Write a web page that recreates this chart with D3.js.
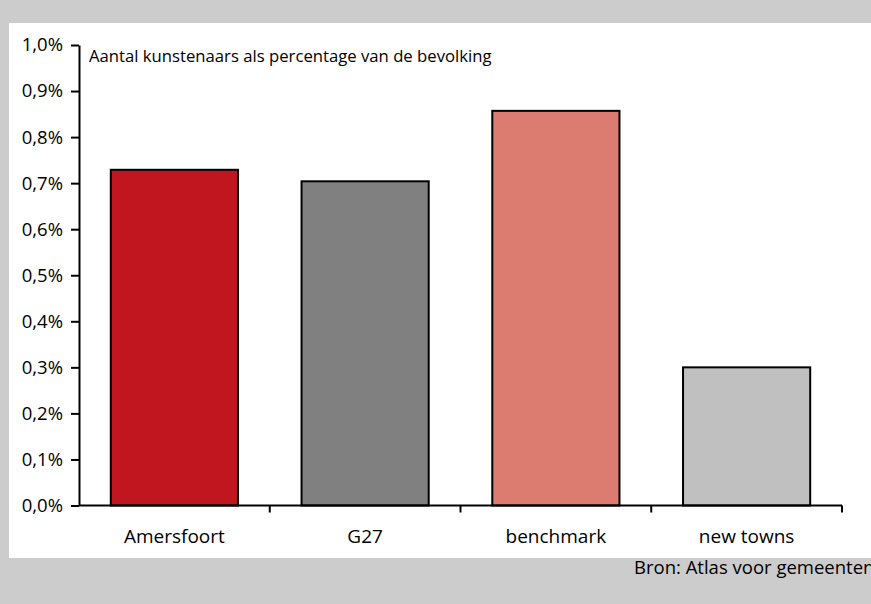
<!DOCTYPE html>
<html><head><meta charset="utf-8">
<script src="https://cdn.jsdelivr.net/npm/d3@7"></script>
<style>
html,body{margin:0;padding:0;background:#cccccc;}
svg{display:block;}
text{font-family:"Open Sans","Noto Sans",sans-serif;fill:#000;}
</style></head><body>
<script>
const categories = ["Amersfoort","G27","benchmark","new towns"];
const values = [0.729, 0.704, 0.857, 0.300];
const barColors = ["#c1161f","#808080","#dc7b70","#c0c0c0"];
const yTicks = [0,0.1,0.2,0.3,0.4,0.5,0.6,0.7,0.8,0.9,1.0];
const title = "Aantal kunstenaars als percentage van de bevolking";
const source = "Bron: Atlas voor gemeenten";

const W = 871, H = 604;
const svg = d3.select("body").append("svg").attr("width", W).attr("height", H);
svg.append("rect").attr("width", W).attr("height", H).attr("fill", "#cccccc");
svg.append("rect").attr("x", 9).attr("y", 23).attr("width", W - 9).attr("height", 535).attr("fill", "#ffffff");

const x = d3.scaleBand().domain(categories).range([79, 842]).paddingInner(1/3).paddingOuter(1/6);
const y = d3.scaleLinear().domain([0, 1.0]).range([505.5, 45]);

svg.selectAll("rect.bar").data(values).enter().append("rect")
  .attr("class", "bar")
  .attr("x", (d, i) => x(categories[i]))
  .attr("y", d => y(d))
  .attr("width", x.bandwidth())
  .attr("height", d => y(0) - y(d))
  .attr("fill", (d, i) => barColors[i])
  .attr("stroke", "#000").attr("stroke-width", 2);

// Y axis
const fmt = d => d3.format(".1f")(d).replace(".", ",") + "%";
const yAxis = svg.append("g").attr("transform", "translate(79,0)")
  .call(d3.axisLeft(y).tickValues(yTicks).tickFormat(fmt).tickSize(8).tickSizeOuter(0).tickPadding(8));
yAxis.attr("font-size", null).attr("font-family", null);
yAxis.select(".domain").attr("stroke", "#000").attr("stroke-width", 2);
yAxis.selectAll(".tick line").attr("stroke", "#000").attr("stroke-width", 2);
yAxis.selectAll(".tick text").attr("font-size", 18.5).attr("fill", "#000");

// X axis with boundary ticks
const step = x.step();
const bounds = d3.range(categories.length + 1).map(i => 79 + i * step);
const xg = svg.append("g");
xg.append("line").attr("x1", 79).attr("x2", 842).attr("y1", y(0)).attr("y2", y(0))
  .attr("stroke", "#000").attr("stroke-width", 2);
xg.selectAll("line.bt").data(bounds.slice(1)).enter().append("line")
  .attr("x1", d => d).attr("x2", d => d).attr("y1", y(0)).attr("y2", y(0) + 7)
  .attr("stroke", "#000").attr("stroke-width", 2);
xg.selectAll("text.cat").data(categories).enter().append("text")
  .attr("x", d => x(d) + x.bandwidth() / 2).attr("y", 543)
  .attr("text-anchor", "middle").attr("font-size", 19).text(d => d);

svg.append("text").attr("x", 89).attr("y", 62).attr("font-size", 16.7).text(title);
svg.append("text").attr("x", 634).attr("y", 574).attr("font-size", 18.5).text(source);
</script>
</body></html>
